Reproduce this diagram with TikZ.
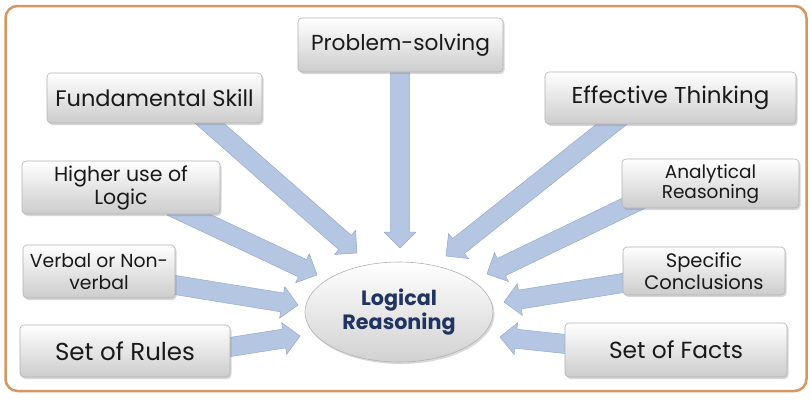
\documentclass[tikz,border=0pt]{standalone}
\usepackage{fontspec}
\setmainfont{Poppins}
\usetikzlibrary{calc,shadows,shapes.geometric}
\pgfdeclarelayer{bg}
\pgfsetlayers{bg,main}
\definecolor{framecol}{RGB}{214,150,95}
\definecolor{arrfill}{RGB}{180,198,226}
\definecolor{arredge}{RGB}{150,170,205}
\definecolor{navy}{RGB}{31,52,96}
\newcommand\blockarrow[2]{%
  \coordinate (tmpS) at ($(#1)!-15pt!(#2)$);
  \coordinate (tmpH) at ($(#2)!16pt!(#1)$);
  \draw[arrowsty] ($(tmpS)!9.5pt!90:(#2)$) -- ($(tmpH)!9.5pt!-90:(tmpS)$)
    -- ($(tmpH)!16pt!-90:(tmpS)$) -- (#2) -- ($(tmpH)!16pt!90:(tmpS)$)
    -- ($(tmpH)!9.5pt!90:(tmpS)$) -- ($(tmpS)!9.5pt!-90:(#2)$) -- cycle;}
\tikzset{
  arrowsty/.style={fill=arrfill, draw=arredge, line width=0.5pt, line join=miter},
  boxsty/.style={draw=black!30, line width=0.6pt, rounded corners=4pt,
    top color=white, bottom color=black!20,
    drop shadow={shadow xshift=1.5pt, shadow yshift=-2pt, opacity=0.3},
    align=center, inner sep=0pt, text=black!90},
  centresty/.style={ellipse, draw=black!30, line width=0.6pt,
    top color=white, bottom color=black!18,
    drop shadow={shadow xshift=1.5pt, shadow yshift=-2pt, opacity=0.3},
    align=center, inner sep=0pt, text=navy, font=\bfseries\fontsize{20.7}{23.5}\selectfont},
}
\begin{document}
\begin{tikzpicture}[x=1pt,y=-1pt]
\useasboundingbox (0,0) rectangle (811,402);
\begin{pgfonlayer}{bg}
\fill[white] (0,0) rectangle (811,402);
\end{pgfonlayer}
\draw[framecol, line width=2.5pt, rounded corners=12pt] (5.5,6) rectangle (806.5,391);

\node[boxsty, minimum width=205pt, minimum height=54pt, font=\fontsize{21.7}{25}\selectfont] (ps) at (400.5,45) {Problem-solving};
\node[boxsty, minimum width=215pt, minimum height=50pt, font=\fontsize{22.5}{25}\selectfont] (fs) at (154.5,98) {Fundamental Skill};
\node[boxsty, minimum width=251pt, minimum height=52pt, font=\fontsize{23}{25}\selectfont] (et) at (670.5,98) {Effective Thinking};
\node[boxsty, minimum width=198pt, minimum height=53pt, font=\fontsize{20.5}{23}\selectfont] (hl) at (121,187.5) {Higher use of\\Logic};
\node[boxsty, minimum width=177pt, minimum height=49pt, font=\fontsize{18.5}{20}\selectfont] (an) at (710.5,183.5) {Analytical\\Reasoning};
\node[boxsty, minimum width=152pt, minimum height=53pt, font=\fontsize{18.8}{21.5}\selectfont] (vb) at (99,271.5) {Verbal or Non-\\verbal};
\node[boxsty, minimum width=162pt, minimum height=48pt, font=\fontsize{19.5}{22.5}\selectfont] (sc) at (704,271) {Specific\\Conclusions};
\node[boxsty, minimum width=210pt, minimum height=52pt, font=\fontsize{24.5}{27}\selectfont] (sr) at (125,351) {Set of Rules};
\node[boxsty, minimum width=222pt, minimum height=54pt, font=\fontsize{23.3}{26}\selectfont] (sf) at (676,350) {Set of Facts};
\node[centresty, minimum width=188pt, minimum height=100pt] (lr) at (399,312) {Logical\\Reasoning};

\coordinate (psS) at (400,72);  \coordinate (psT) at (400,248);
\coordinate (fsS) at (208,122); \coordinate (fsT) at (357,253);
\coordinate (etS) at (612,124); \coordinate (etT) at (446,256);
\coordinate (hlS) at (185,213); \coordinate (hlT) at (317,275);
\coordinate (anS) at (630,205); \coordinate (anT) at (487,274);
\coordinate (vbS) at (175,285); \coordinate (vbT) at (298,305);
\coordinate (scS) at (623,283); \coordinate (scT) at (504,302);
\coordinate (srS) at (230,347); \coordinate (srT) at (300,336);
\coordinate (sfS) at (565,344); \coordinate (sfT) at (500,337);

\begin{pgfonlayer}{bg}
\blockarrow{psS}{psT}
\blockarrow{fsS}{fsT}
\blockarrow{etS}{etT}
\blockarrow{hlS}{hlT}
\blockarrow{anS}{anT}
\blockarrow{vbS}{vbT}
\blockarrow{scS}{scT}
\blockarrow{srS}{srT}
\blockarrow{sfS}{sfT}
\end{pgfonlayer}
\end{tikzpicture}
\end{document}
